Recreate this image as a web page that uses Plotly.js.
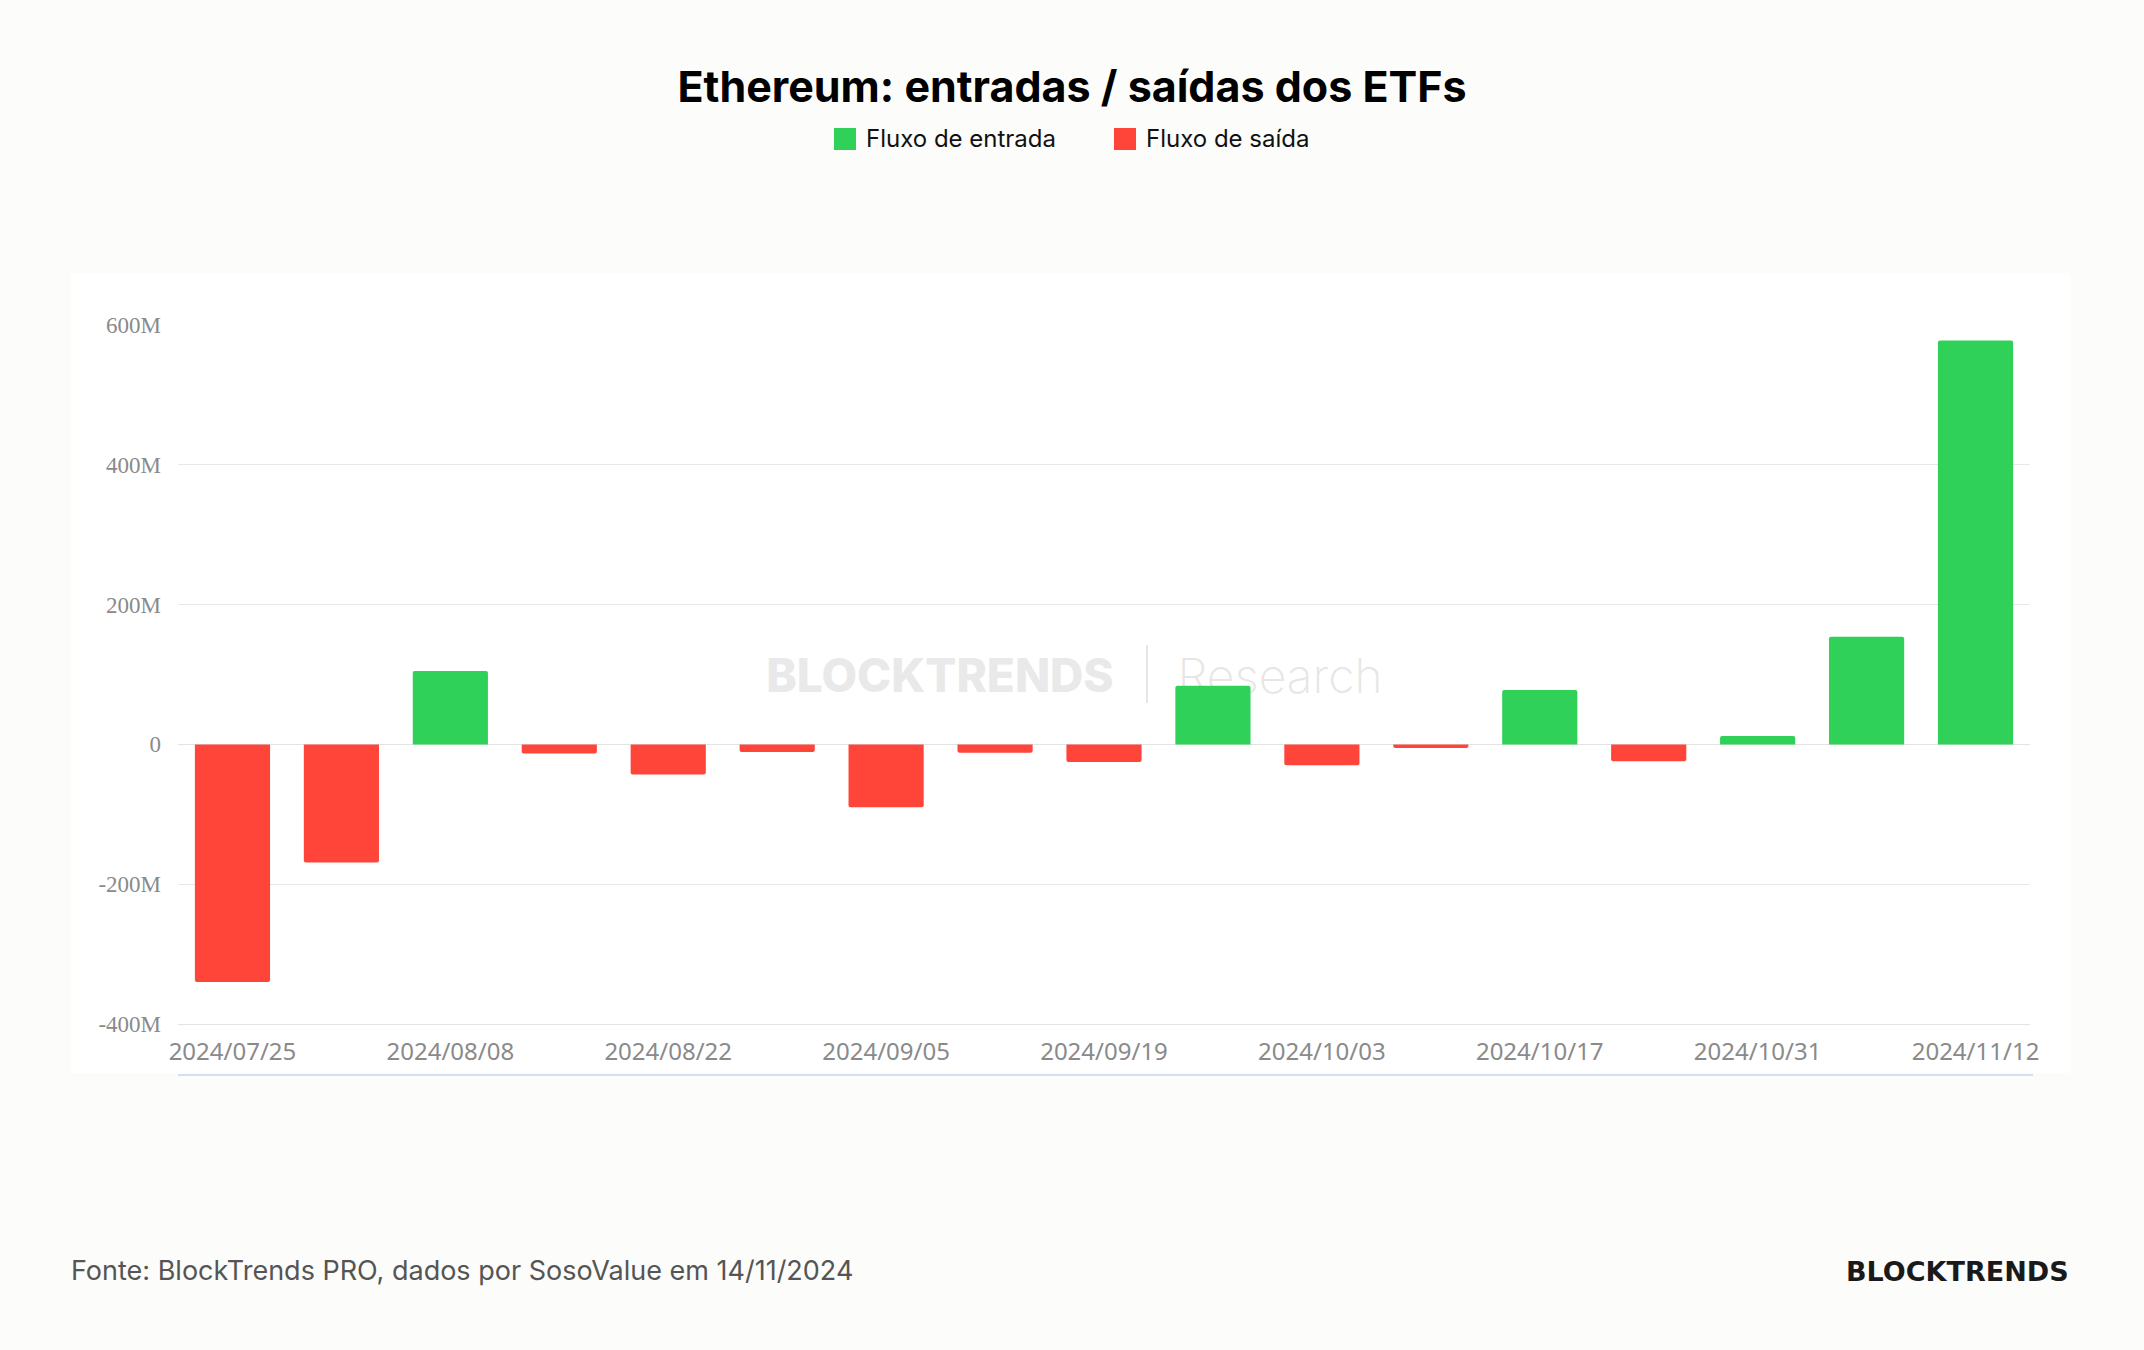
<!DOCTYPE html>
<html>
<head>
<meta charset="utf-8">
<script src="https://cdn.plot.ly/plotly-3.0.1.min.js"></script>
<style>
html,body{margin:0;padding:0;background:#fcfcfa;}
#chart{width:2144px;height:1350px;}
</style>
</head>
<body>
<div id="chart"></div>
<script>
// ---- data ----
const weeks = ["2024/07/25","2024/08/01","2024/08/08","2024/08/15","2024/08/22","2024/08/29",
  "2024/09/05","2024/09/12","2024/09/19","2024/09/26","2024/10/03","2024/10/10",
  "2024/10/17","2024/10/24","2024/10/31","2024/11/07","2024/11/12"];
const flowsM = [-340, -169, 105, -13, -43, -11, -90, -12, -25, 84, -30, -5, 78, -24, 12, 154, 578];
const tickLabels = ["2024/07/25","2024/08/08","2024/08/22","2024/09/05","2024/09/19",
  "2024/10/03","2024/10/17","2024/10/31","2024/11/12"];
const yTickVals = [-400, -200, 0, 200, 400, 600];
const yTickText = ["-400M","-200M","0","200M","400M","600M"];
const seriesNames = ["Fluxo de entrada", "Fluxo de saída"];
const titleText = "Ethereum: entradas / saídas dos ETFs";
const sourceText = "Fonte: BlockTrends PRO, dados por SosoValue em 14/11/2024";
const brandText = "BLOCKTRENDS";
const watermarkLeft = "BLOCKTRENDS";
const watermarkRight = "Research";

// ---- styles ----
const GREEN = "#30d158", RED = "#ff453a";
const W = 2144, H = 1350;
const L = 178, R = 114, T = 325, B = 326;
const PW = W - L - R, PH = H - T - B;
const px = x => (x - L) / PW;
const py = y => (H - B - y) / PH;

const inflow = flowsM.map(v => v > 0 ? v : null);
const outflow = flowsM.map(v => v < 0 ? v : null);

const traces = [
  {type:"bar", x:weeks, y:inflow, name:seriesNames[0], marker:{color:GREEN, cornerradius:2}, width:0.69, showlegend:false, hoverinfo:"x+y"},
  {type:"bar", x:weeks, y:outflow, name:seriesNames[1], marker:{color:RED, cornerradius:2}, width:0.69, showlegend:false, hoverinfo:"x+y"}
];

const shapes = [
  // chart panel
  {type:"rect", xref:"paper", yref:"paper", x0:px(71), x1:px(2071), y0:py(1073), y1:py(273), fillcolor:"#ffffff", line:{width:0}, layer:"below"},
  // watermark
  {type:"rect", xref:"paper", yref:"paper", x0:px(730), x1:px(1150), y0:py(700), y1:py(648), fillcolor:"rgba(0,0,0,0)", line:{width:0}, layer:"below",
    label:{text:watermarkLeft, textposition:"middle center", font:{family:"Inter, Roboto, sans-serif", size:46, weight:800, color:"#e9e9e9"}}},
  {type:"line", xref:"paper", yref:"paper", x0:px(1147), x1:px(1147), y0:py(703), y1:py(645), line:{color:"#e6e6e6", width:2}, layer:"below"},
  {type:"rect", xref:"paper", yref:"paper", x0:px(1170), x1:px(1390), y0:py(700), y1:py(648), fillcolor:"rgba(0,0,0,0)", line:{width:0}, layer:"below",
    label:{text:watermarkRight, textposition:"middle center", font:{family:"Inter, Lato, sans-serif", size:48, weight:200, color:"#e6e6e6"}}},
  // bottom slider line
  {type:"line", xref:"paper", yref:"paper", x0:px(178), x1:px(2033), y0:py(1075), y1:py(1075), line:{color:"#d3dff4", width:2}},
  // legend squares
  {type:"rect", xref:"paper", yref:"paper", x0:px(834), x1:px(856), y0:py(150), y1:py(128), fillcolor:GREEN, line:{width:0}},
  {type:"rect", xref:"paper", yref:"paper", x0:px(1114), x1:px(1136), y0:py(150), y1:py(128), fillcolor:RED, line:{width:0}}
];

const annotations = [
  {xref:"paper", yref:"paper", x:px(864), y:py(139), xanchor:"left", yanchor:"middle", showarrow:false,
    text:seriesNames[0], font:{family:"Inter, sans-serif", size:24, color:"#111111"}},
  {xref:"paper", yref:"paper", x:px(1144), y:py(139), xanchor:"left", yanchor:"middle", showarrow:false,
    text:seriesNames[1], font:{family:"Inter, sans-serif", size:24, color:"#111111"}},
  {xref:"paper", yref:"paper", x:px(69), y:py(1270), xanchor:"left", yanchor:"middle", showarrow:false,
    text:sourceText, font:{family:"Inter, sans-serif", size:27, color:"#555555"}},
  {xref:"paper", yref:"paper", x:px(2071), y:py(1271), xanchor:"right", yanchor:"middle", showarrow:false,
    text:brandText, font:{family:"DejaVu Sans, sans-serif", size:27, weight:700, color:"#1a1a1a"}}
];

const layout = {
  width:W, height:H,
  margin:{l:L, r:R, t:T, b:B, pad:0},
  paper_bgcolor:"#fcfcfa", plot_bgcolor:"#ffffff",
  title:{text:titleText, x:0.5, xref:"container", xanchor:"center", y:1-87/H, yref:"container", yanchor:"middle",
    font:{family:"Inter, sans-serif", size:43, weight:700, color:"#000000"}},
  barmode:"relative",
  bargap:0.31,
  xaxis:{type:"category", categoryorder:"array", categoryarray:weeks, range:[-0.5, weeks.length-0.5],
    tickmode:"array", tickvals:tickLabels, ticktext:tickLabels, ticks:"", showgrid:false, zeroline:false,
    showline:true, linecolor:"#e3e3e3", linewidth:1, ticklabelstandoff:6,
    tickfont:{family:"Noto Sans, sans-serif", size:24, color:"#8a8a8a"}},
  yaxis:{range:[-400, 600], tickmode:"array", tickvals:yTickVals, ticktext:yTickText, ticks:"",
    showgrid:true, gridcolor:"#e8e8e8", gridwidth:1, zeroline:true, zerolinecolor:"#e3e3e3", zerolinewidth:1,
    ticklabelstandoff:16, tickfont:{family:"Liberation Serif, serif", size:23, color:"#8a8a8a"}},
  shapes:shapes,
  annotations:annotations,
  showlegend:false
};

Plotly.newPlot("chart", traces, layout, {displayModeBar:false, staticPlot:true});
</script>
</body>
</html>
